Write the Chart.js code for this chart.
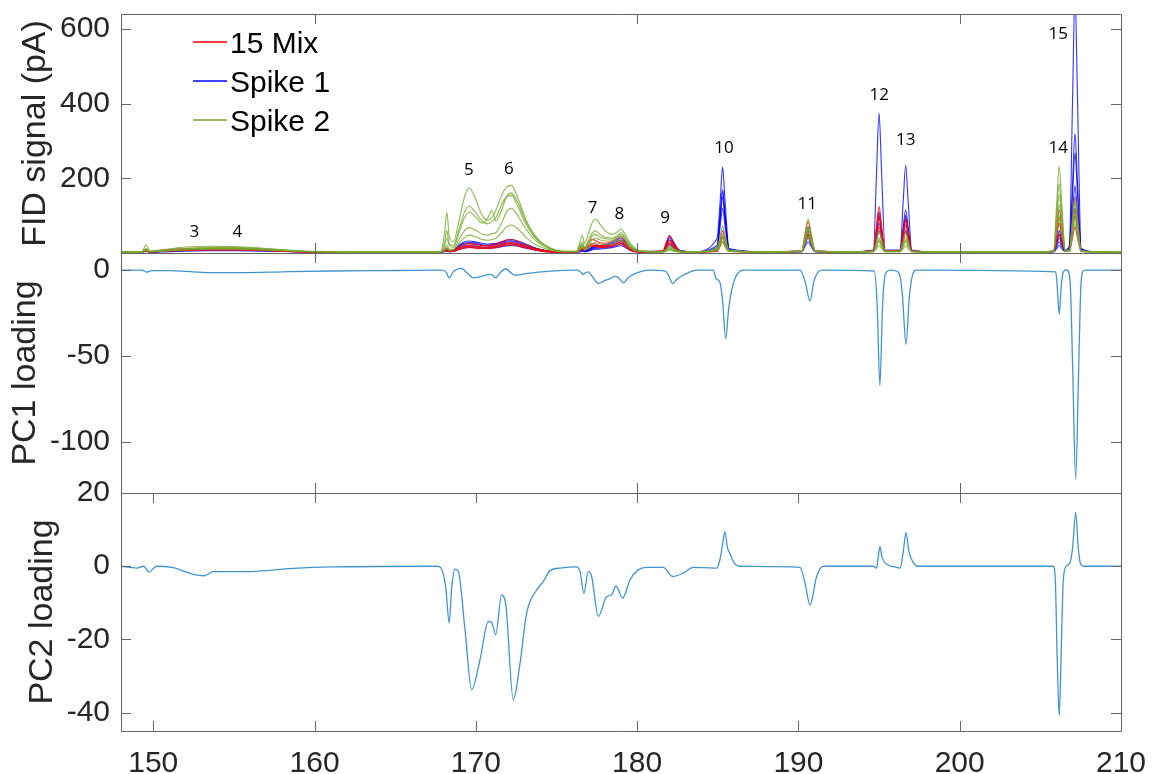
<!DOCTYPE html>
<html>
<head>
<meta charset="utf-8">
<script src="https://cdn.jsdelivr.net/npm/chart.js@4.4.1/dist/chart.umd.min.js"></script>
<style>
  body { margin: 0; background: #fff; }
  #wrap { position: relative; width: 1152px; height: 774px; }
  #wrap canvas { position: absolute; left: 0; top: 0; }
</style>
</head>
<body>
<div id="wrap">
  <canvas id="fid-chart" width="1152" height="774"></canvas>
  <canvas id="pc1-chart" width="1152" height="774"></canvas>
  <canvas id="pc2-chart" width="1152" height="774"></canvas>
</div>
<script>
// retention time (min) shared by all FID traces
const fidTimes = [
  148, 149.3, 149.55, 149.8, 150.5, 152, 153.5, 155, 156.5, 158, 159.5, 162, 165,
  167.8, 168.05, 168.2, 168.35, 168.6, 169.0, 169.3, 169.6, 169.95, 170.4, 170.75, 171.0, 171.25, 171.6, 171.9, 172.2, 172.6, 173.1, 173.8, 174.6, 175.4,
  176.25, 176.45, 176.6, 176.75, 177.0, 177.2, 177.4, 177.65, 178.0, 178.5, 178.8, 179.0, 179.25, 179.6, 180.2,
  181.6, 181.82, 182.0, 182.25, 182.6, 183.5,
  184.95, 185.15, 185.3, 185.45, 185.7, 188,
  190.2, 190.42, 190.6, 190.78, 191.05, 193,
  194.65, 194.85, 195.0, 195.15, 195.38, 196.3, 196.5, 196.65, 196.8, 197.03, 198.5, 202, 205,
  205.82, 206.02, 206.17, 206.32, 206.55, 206.8, 207.0, 207.15, 207.3, 207.53, 208.5, 210,
];

// FID signal (pA), 15 Mix runs
const mixRun1 = [
  3, 3, 10, 4, 8, 12, 13, 13, 11, 7, 4, 3, 3,
  3, 8, 14, 8, 8, 18, 23, 25, 23, 20, 20, 22, 24, 30, 35, 36, 32, 22, 11, 5, 3,
  4, 12, 20, 14, 30, 36, 34, 28, 26, 32, 40, 45, 32, 12, 4,
  6, 30, 47, 30, 6, 3,
  6, 36, 60, 36, 6, 3,
  5, 51, 85, 51, 5, 3,
  6, 75, 125, 75, 6, 6, 57, 95, 57, 6, 3, 3, 3,
  5, 70, 116, 70, 6, 8, 91, 152, 91, 6, 3, 3,
];
const mixRun2 = [
  3, 3, 7, 3, 6, 10, 11, 11, 9, 6, 4, 3, 3,
  3, 6, 10, 6, 6, 14, 18, 20, 18, 16, 16, 18, 20, 24, 27, 28, 25, 18, 9, 4, 3,
  3, 9, 14, 10, 20, 25, 24, 20, 20, 25, 31, 35, 25, 10, 3,
  5, 22, 35, 22, 5, 3,
  5, 27, 45, 27, 5, 3,
  4, 36, 60, 36, 4, 3,
  5, 57, 95, 57, 5, 5, 45, 75, 45, 5, 3, 3, 3,
  4, 48, 80, 48, 5, 6, 60, 100, 60, 5, 3, 3,
];
const mixRun3 = [
  3, 3, 5, 3, 5, 8, 9, 9, 8, 5, 3, 3, 3,
  3, 4, 7, 4, 5, 10, 13, 15, 13, 12, 12, 13, 15, 18, 21, 22, 19, 14, 7, 3, 3,
  3, 6, 10, 7, 14, 18, 17, 15, 15, 18, 22, 25, 18, 7, 3,
  4, 15, 25, 15, 4, 3,
  4, 18, 30, 18, 4, 3,
  4, 27, 45, 27, 4, 3,
  4, 42, 70, 42, 4, 4, 33, 55, 33, 4, 3, 3, 3,
  4, 30, 50, 30, 4, 5, 42, 70, 42, 4, 3, 3,
];
const mixRun4 = [
  3, 3, 6, 3, 4, 7, 8, 8, 7, 5, 3, 3, 3,
  3, 5, 8, 5, 5, 12, 16, 18, 16, 14, 14, 15, 17, 21, 24, 25, 22, 16, 8, 3, 3,
  3, 7, 12, 8, 17, 21, 20, 17, 17, 21, 26, 30, 21, 8, 3,
  4, 18, 30, 18, 4, 3,
  5, 24, 40, 24, 5, 3,
  4, 30, 50, 30, 4, 3,
  5, 60, 105, 60, 5, 5, 50, 85, 50, 5, 3, 3, 3,
  4, 55, 95, 55, 5, 6, 70, 120, 70, 5, 3, 3,
];

// FID signal (pA), Spike 1 runs
const spike1Run1 = [
  3, 3, 6, 3, 5, 10, 12, 12, 10, 7, 4, 3, 3,
  3, 6, 10, 6, 8, 22, 30, 32, 30, 26, 24, 25, 26, 30, 35, 36, 32, 24, 12, 5, 3,
  3, 6, 10, 6, 10, 16, 20, 20, 22, 28, 36, 40, 30, 14, 4,
  5, 27, 45, 30, 8, 3,
  38, 140, 230, 140, 12, 3,
  5, 42, 70, 42, 5, 3,
  8, 225, 375, 225, 8, 8, 141, 235, 141, 8, 3, 3, 3,
  5, 36, 60, 36, 8, 20, 420, 700, 420, 12, 3, 3,
];
const spike1Run2 = [
  3, 3, 5, 3, 4, 8, 10, 10, 8, 6, 4, 3, 3,
  3, 5, 8, 5, 6, 18, 24, 25, 24, 20, 19, 20, 22, 26, 29, 30, 26, 19, 10, 4, 3,
  3, 5, 8, 5, 8, 12, 15, 16, 18, 22, 27, 30, 23, 10, 4,
  4, 21, 35, 23, 6, 3,
  15, 102, 170, 102, 10, 3,
  4, 30, 50, 30, 4, 3,
  6, 59, 98, 59, 6, 6, 70, 116, 70, 6, 3, 3, 3,
  4, 24, 40, 24, 6, 12, 160, 268, 160, 10, 3, 3,
];
const spike1Run3 = [
  3, 3, 4, 3, 4, 7, 8, 8, 7, 5, 3, 3, 3,
  3, 4, 6, 4, 5, 14, 19, 20, 19, 16, 15, 16, 17, 21, 24, 25, 22, 16, 8, 4, 3,
  3, 4, 6, 4, 6, 10, 12, 13, 15, 18, 22, 25, 19, 9, 3,
  4, 15, 25, 16, 5, 3,
  10, 90, 150, 90, 8, 3,
  4, 24, 40, 24, 4, 3,
  5, 48, 80, 48, 5, 5, 54, 90, 54, 5, 3, 3, 3,
  4, 18, 30, 18, 5, 10, 108, 180, 108, 8, 3, 3,
];
const spike1Run4 = [
  3, 3, 4, 3, 3, 5, 6, 6, 5, 4, 3, 3, 3,
  3, 3, 5, 3, 4, 10, 14, 15, 14, 12, 12, 13, 14, 17, 19, 20, 18, 13, 7, 3, 3,
  3, 3, 5, 3, 5, 8, 10, 10, 12, 15, 18, 20, 15, 7, 3,
  3, 12, 20, 13, 4, 3,
  8, 72, 120, 72, 6, 3,
  3, 18, 30, 18, 3, 3,
  4, 36, 60, 36, 4, 4, 36, 60, 36, 4, 3, 3, 3,
  3, 12, 20, 12, 4, 8, 72, 120, 72, 6, 3, 3,
];
const spike1Run5 = [
  3, 3, 5, 3, 4, 9, 11, 11, 9, 6, 4, 3, 3,
  3, 5, 9, 5, 7, 20, 27, 28, 27, 22, 21, 22, 24, 28, 32, 33, 29, 21, 11, 4, 3,
  3, 5, 9, 5, 9, 14, 17, 18, 20, 25, 31, 35, 26, 12, 4,
  4, 24, 40, 26, 7, 3,
  20, 100, 165, 100, 10, 3,
  5, 36, 60, 36, 5, 3,
  6, 66, 110, 66, 6, 6, 60, 100, 60, 6, 3, 3, 3,
  4, 30, 50, 30, 6, 14, 190, 320, 190, 10, 3, 3,
];

// FID signal (pA), Spike 2 runs
const spike2Run1 = [
  3, 4, 22, 5, 8, 16, 18, 17, 14, 9, 5, 3, 3,
  3, 50, 109, 45, 30, 95, 150, 174, 148, 100, 88, 95, 115, 155, 176, 181, 148, 90, 40, 14, 5,
  5, 30, 47, 25, 55, 80, 91, 80, 60, 50, 58, 65, 50, 25, 6,
  4, 10, 20, 12, 5, 3,
  15, 45, 72, 45, 8, 3,
  5, 55, 91, 55, 5, 3,
  5, 36, 60, 36, 5, 5, 33, 55, 33, 5, 3, 3, 3,
  5, 140, 232, 140, 8, 8, 91, 152, 91, 6, 3, 3,
];
const spike2Run2 = [
  3, 3, 12, 4, 6, 12, 14, 14, 12, 8, 4, 3, 3,
  3, 18, 40, 20, 15, 60, 95, 109, 98, 80, 95, 114, 85, 115, 150, 161, 135, 85, 38, 13, 4,
  4, 20, 30, 15, 35, 52, 60, 52, 42, 40, 48, 55, 42, 20, 5,
  3, 8, 15, 9, 4, 3,
  10, 30, 50, 30, 6, 3,
  5, 42, 70, 42, 5, 3,
  4, 24, 40, 24, 4, 4, 24, 40, 24, 4, 3, 3, 3,
  5, 94, 156, 94, 6, 6, 72, 120, 72, 5, 3, 3,
];
const spike2Run3 = [
  3, 3, 8, 4, 5, 10, 12, 12, 10, 7, 4, 3, 3,
  3, 10, 22, 10, 10, 40, 60, 68, 62, 50, 48, 52, 55, 80, 110, 120, 100, 65, 30, 10, 4,
  4, 12, 20, 10, 22, 34, 40, 36, 32, 33, 40, 45, 35, 15, 4,
  3, 6, 10, 6, 3, 3,
  8, 24, 40, 24, 5, 3,
  4, 36, 60, 36, 4, 3,
  4, 18, 30, 18, 4, 4, 18, 30, 18, 4, 3, 3, 3,
  4, 78, 130, 78, 5, 5, 60, 100, 60, 5, 3, 3,
];
const spike2Run4 = [
  3, 3, 6, 3, 5, 8, 10, 10, 8, 6, 4, 3, 3,
  3, 6, 12, 6, 8, 28, 42, 48, 44, 36, 34, 36, 40, 55, 70, 75, 65, 42, 20, 8, 3,
  3, 8, 14, 8, 15, 24, 28, 25, 22, 24, 30, 34, 26, 12, 4,
  3, 5, 8, 5, 3, 3,
  6, 18, 30, 18, 4, 3,
  4, 28, 46, 28, 4, 3,
  3, 12, 20, 12, 3, 3, 12, 20, 12, 3, 3, 3, 3,
  4, 60, 100, 60, 4, 4, 48, 80, 48, 4, 3, 3,
];
const spike2Run5 = [
  3, 3, 9, 4, 6, 11, 13, 13, 11, 7, 4, 3, 3,
  3, 25, 60, 25, 20, 70, 110, 125, 110, 85, 78, 84, 95, 130, 150, 155, 125, 78, 35, 12, 4,
  4, 15, 25, 12, 28, 45, 50, 44, 38, 37, 45, 50, 38, 18, 5,
  3, 7, 12, 7, 4, 3,
  9, 27, 45, 27, 5, 3,
  5, 40, 65, 40, 5, 3,
  4, 20, 35, 20, 4, 4, 20, 35, 20, 4, 3, 3, 3,
  5, 110, 185, 110, 6, 6, 80, 135, 80, 5, 3, 3,
];

// peak numbers written above the chromatograms
const peakNames = ["3", "4", "5", "6", "7", "8", "9", "10", "11", "12", "13", "14", "15"];
const peakTimes = [152.55, 155.21, 169.57, 172.05, 177.24, 178.9, 181.73, 185.38, 190.55, 195.01, 196.65, 206.11, 206.11];
const peakHeights = [57, 57, 221, 225, 121, 103, 92, 281, 130, 422, 303, 281, 587];

// PC1 loading vs retention time
const pc1Points = [
  [148, 0], [149.3, 0], [149.6, -1.2], [149.9, -0.3], [151, -0.3], [152.5, -1], [153.5, -1.5],
  [155.5, -1.5], [158, -1], [161, -0.5], [165, -0.2], [167.9, 0], [168.15, -1], [168.35, -4.5],
  [168.6, -1], [169.1, 1], [169.5, -2], [169.84, -4.5], [170.4, -3.5], [170.88, -2.5], [171.05, -3],
  [171.23, -4.5], [171.5, -1.5], [171.87, 0.8], [172.1, -1], [172.43, -3], [173, -2.2], [174.6, -0.6],
  [176.3, 0], [176.55, -1.5], [176.66, -2.5], [176.8, -1.5], [176.97, -1], [177.2, -3.5], [177.59, -7.8],
  [178, -6], [178.32, -5], [178.63, -3.5], [178.85, -4.5], [179.14, -7.4], [179.45, -4.5], [179.76, -2.5],
  [180.8, 0], [181.73, -0.6], [181.95, -3], [182.2, -7.8], [182.5, -5], [182.86, -3], [183.69, 0],
  [184.72, 0], [184.9, -5], [185.13, -7], [185.3, -18], [185.49, -40], [185.68, -22], [185.86, -12],
  [186.1, -4], [186.38, -0.6], [186.6, 0], [190.1, 0], [190.41, -6.5], [190.72, -18], [190.95, -7],
  [191.23, -1], [191.5, 0], [194.7, -0.5], [194.88, -20], [195.05, -67.3], [195.22, -20], [195.4, -2],
  [195.7, 0], [196.05, -0.5], [196.3, -3.5], [196.45, -15], [196.67, -43.3], [196.88, -15], [197.1, -2],
  [197.3, 0], [205.95, -1], [206.05, -10], [206.17, -25.8], [206.29, -10], [206.42, -1], [206.63, 0.2],
  [206.84, -6], [207.0, -55], [207.19, -122], [207.38, -55], [207.5, -12], [207.62, -1], [207.8, 0],
  [210, 0],
];

// PC2 loading vs retention time
const pc2Points = [
  [148, 0], [148.97, -0.5], [149.4, 0], [149.74, -1.6], [150.2, 0], [151.24, -0.4], [152.48, -2.2],
  [153.15, -2.6], [153.72, -1.5], [155.8, -1.5], [158.68, -0.6], [161.1, -0.2], [167.57, 0],
  [167.78, -0.2], [168.13, -5.6], [168.35, -15.5], [168.5, -6], [168.7, -0.8], [168.91, -1.4],
  [169.33, -17.4], [169.74, -33.7], [170.26, -25.5], [170.77, -15.1], [170.98, -15.3], [171.23, -18.7],
  [171.6, -7.8], [171.87, -11], [172.32, -36.5], [172.74, -26.5], [173.15, -12.8], [173.77, -6.5],
  [174.18, -4.2], [174.6, -1.2], [175.22, -0.5], [176.25, -0.2], [176.46, -1.4], [176.7, -7.4],
  [176.97, -1.5], [177.18, -2.8], [177.59, -13.7], [178.11, -8.3], [178.42, -7.8], [178.69, -5.4],
  [179.1, -8.7], [179.56, -3.7], [180.07, -1], [180.59, -0.3], [181.62, -0.3], [182.2, -2.8],
  [182.86, -1.9], [183.48, -0.3], [184.93, -0.5], [185.13, 1.7], [185.3, 6], [185.44, 9.4],
  [185.6, 5], [185.75, 3.5], [186.0, 1], [186.38, 0], [190.1, -0.3], [190.41, -4.6], [190.72, -10.6],
  [191.13, -2.8], [191.54, 0], [194.64, 0], [194.85, -0.5], [194.95, 2.5], [195.05, 5.4], [195.18, 2.5],
  [195.36, 1], [196.08, -0.3], [196.3, -0.5], [196.5, 4], [196.67, 9.2], [196.85, 4], [197.12, 1],
  [197.4, 0], [205.8, 0], [205.92, -3], [206.05, -26], [206.17, -40.8], [206.29, -24], [206.42, -4],
  [206.6, 0], [206.84, 1], [207.0, 5], [207.19, 14.7], [207.35, 5], [207.5, 0.5], [207.7, 0], [210, 0],
];

const timeTicks = [150, 160, 170, 180, 190, 200, 210];
const upperTimeTicks = [160, 180, 200];
const fidTicks = [200, 400, 600];
const pc1Ticks = [-100, -50, 0];
const pc2Ticks = [-40, -20, 0, 20];

const FONT = "'Liberation Sans', Arial, sans-serif";
const TEXT_COLOR = "#262626";
const FRAME_COLOR = "#666666";
const RED = "rgba(255, 0, 0, 0.85)";
const BLUE = "rgba(0, 0, 255, 0.8)";
const GREEN = "rgba(119, 172, 48, 0.85)";
const PC_COLOR = "rgba(0, 114, 189, 0.75)";

// plot boxes, in canvas pixels
const PLOT_LEFT = 121;
const PLOT_RIGHT = 1121;
const fidBox = { top: 14, bottom: 253 };
const pc1Box = { top: 253, bottom: 493 };
const pc2Box = { top: 493, bottom: 731 };

const toXY = (times, values) => times.map((t, i) => ({ x: t, y: values[i] }));
const pairsToXY = (pairs) => pairs.map(([x, y]) => ({ x, y }));
const fixedTicks = (values) => (scale) => {
  scale.ticks = values.map((v) => ({ value: v }));
};

// box round the plot area plus inward tick marks on all four sides
const framePlugin = {
  id: "frame",
  afterDraw(chart, args, opts) {
    const { ctx, chartArea: a, scales } = chart;
    const len = 10;
    ctx.save();
    ctx.strokeStyle = FRAME_COLOR;
    ctx.lineWidth = 1;
    ctx.beginPath();
    ctx.rect(a.left + 0.5, a.top + 0.5, a.right - a.left, a.bottom - a.top);
    for (const v of opts.xTicks) {
      const px = Math.round(scales.x.getPixelForValue(v)) + 0.5;
      ctx.moveTo(px, a.bottom);
      ctx.lineTo(px, a.bottom - len);
      ctx.moveTo(px, a.top);
      ctx.lineTo(px, a.top + len);
    }
    for (const t of scales.y.ticks) {
      const py = Math.round(scales.y.getPixelForValue(t.value)) + 0.5;
      ctx.moveTo(a.left, py);
      ctx.lineTo(a.left + len, py);
      ctx.moveTo(a.right, py);
      ctx.lineTo(a.right - len, py);
    }
    ctx.stroke();
    ctx.restore();
  },
};

const legendItems = [
  { label: "15 Mix", color: "#FF0000" },
  { label: "Spike 1", color: "#0000FF" },
  { label: "Spike 2", color: "#77AC30" },
];

// legend box in the top-left corner of the FID panel
const fidLegendPlugin = {
  id: "fidLegend",
  afterDraw(chart) {
    const { ctx, chartArea: a } = chart;
    ctx.save();
    ctx.font = `30px ${FONT}`;
    ctx.textBaseline = "middle";
    ctx.fillStyle = "#000";
    legendItems.forEach((item, i) => {
      const y = a.top + 28 + i * 39;
      ctx.strokeStyle = item.color;
      ctx.lineWidth = 1.5;
      ctx.beginPath();
      ctx.moveTo(a.left + 72, y);
      ctx.lineTo(a.left + 106, y);
      ctx.stroke();
      ctx.fillText(item.label, a.left + 109, y + 3);
    });
    ctx.restore();
  },
};

const peakLabelPlugin = {
  id: "peakLabels",
  afterDatasetsDraw(chart) {
    const { ctx, scales } = chart;
    ctx.save();
    ctx.font = `17px 'Open Sans', sans-serif`;
    ctx.fillStyle = "#000";
    ctx.textAlign = "center";
    ctx.textBaseline = "middle";
    peakNames.forEach((name, i) => {
      ctx.fillText(name, scales.x.getPixelForValue(peakTimes[i]), scales.y.getPixelForValue(peakHeights[i]));
    });
    ctx.restore();
  },
};

const panelOptions = (cfg) => ({
  responsive: false,
  animation: false,
  devicePixelRatio: 1,
  layout: { padding: { left: 0, right: 1152 - PLOT_RIGHT, top: cfg.box.top, bottom: 774 - cfg.box.bottom } },
  elements: {
    point: { radius: 0 },
    line: { cubicInterpolationMode: "monotone", borderJoinStyle: "round" },
  },
  plugins: {
    legend: { display: false },
    tooltip: { enabled: false },
    frame: { xTicks: cfg.xTickMarks },
  },
  scales: {
    x: {
      type: "linear",
      min: 148,
      max: 210,
      display: cfg.showTime,
      afterBuildTicks: fixedTicks(timeTicks),
      afterFit: (scale) => {
        scale.height = cfg.showTime ? 43 : 0;
        // end labels may hang past the plot box, no extra room needed
        scale.paddingLeft = 0;
        scale.paddingRight = 0;
      },
      grid: { display: false, drawTicks: false },
      border: { display: false },
      ticks: { color: TEXT_COLOR, font: { family: FONT, size: 30 }, padding: 15, maxRotation: 0, autoSkip: false },
    },
    y: {
      min: cfg.yMin,
      max: cfg.yMax,
      afterBuildTicks: fixedTicks(cfg.yTicks),
      afterFit: (scale) => {
        scale.width = PLOT_LEFT;
        scale.paddingTop = 0;
        scale.paddingBottom = 0;
      },
      grid: { display: false, drawTicks: false },
      border: { display: false },
      ticks: { color: TEXT_COLOR, font: { family: FONT, size: 30 }, padding: 11, autoSkip: false },
      title: {
        display: true,
        text: cfg.title,
        color: TEXT_COLOR,
        font: { family: FONT, size: 34, weight: "normal" },
        padding: { top: cfg.titlePad, bottom: 0 },
      },
    },
  },
});

// nudge the layout padding until the plot box sits exactly where it should
const pinChartArea = (chart, box) => {
  for (let i = 0; i < 2; i++) {
    const a = chart.chartArea;
    const p = chart.options.layout.padding;
    if (a.left === PLOT_LEFT && a.right === PLOT_RIGHT && a.top === box.top && a.bottom === box.bottom) return;
    chart.options.layout.padding = {
      left: Math.max(0, p.left + (PLOT_LEFT - a.left)),
      right: Math.max(0, p.right + (a.right - PLOT_RIGHT)),
      top: Math.max(0, p.top + (box.top - a.top)),
      bottom: Math.max(0, p.bottom + (a.bottom - box.bottom)),
    };
    chart.update("none");
  }
};

const trace = (values, color) => ({
  data: toXY(fidTimes, values),
  borderColor: color,
  borderWidth: 1.1,
});

// first dataset ends up on top
const fidDatasets = [
  trace(spike2Run1, GREEN),
  trace(spike2Run5, GREEN),
  trace(spike2Run2, GREEN),
  trace(spike2Run3, GREEN),
  trace(spike2Run4, GREEN),
  trace(mixRun1, RED),
  trace(mixRun4, RED),
  trace(mixRun2, RED),
  trace(mixRun3, RED),
  trace(spike1Run1, BLUE),
  trace(spike1Run5, BLUE),
  trace(spike1Run2, BLUE),
  trace(spike1Run3, BLUE),
  trace(spike1Run4, BLUE),
];

const fidChart = new Chart(document.getElementById("fid-chart"), {
  type: "line",
  data: { datasets: fidDatasets },
  options: panelOptions({
    box: fidBox, yMin: 0, yMax: 640, yTicks: fidTicks,
    title: "FID signal (pA)", titlePad: 15, showTime: false, xTickMarks: upperTimeTicks,
  }),
  plugins: [framePlugin, fidLegendPlugin, peakLabelPlugin],
});
pinChartArea(fidChart, fidBox);

const pc1Chart = new Chart(document.getElementById("pc1-chart"), {
  type: "line",
  data: { datasets: [{ data: pairsToXY(pc1Points), borderColor: PC_COLOR, borderWidth: 1.3 }] },
  options: panelOptions({
    box: pc1Box, yMin: -130, yMax: 10, yTicks: pc1Ticks,
    title: "PC1 loading", titlePad: 5, showTime: false, xTickMarks: upperTimeTicks,
  }),
  plugins: [framePlugin],
});
pinChartArea(pc1Chart, pc1Box);

const pc2Chart = new Chart(document.getElementById("pc2-chart"), {
  type: "line",
  data: { datasets: [{ data: pairsToXY(pc2Points), borderColor: PC_COLOR, borderWidth: 1.3 }] },
  options: panelOptions({
    box: pc2Box, yMin: -45, yMax: 20, yTicks: pc2Ticks,
    title: "PC2 loading", titlePad: 22, showTime: true, xTickMarks: timeTicks,
  }),
  plugins: [framePlugin],
});
pinChartArea(pc2Chart, pc2Box);
</script>
</body>
</html>
